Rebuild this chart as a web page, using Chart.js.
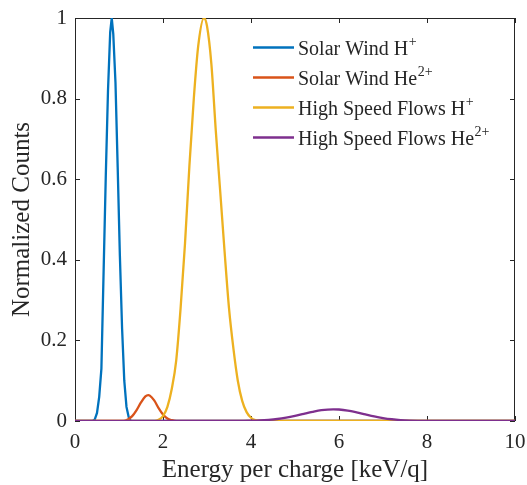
<!DOCTYPE html>
<html><head><meta charset="utf-8">
<script src="https://cdn.jsdelivr.net/npm/chart.js@4/dist/chart.umd.min.js"></script>
<style>html,body{margin:0;padding:0;background:#fff;}</style>
</head><body>
<canvas id="c" width="527" height="485" style="display:block;width:527px;height:485px"></canvas>
<script>
// ---- data ----
const seriesNames = ['Solar Wind H', 'Solar Wind He', 'High Speed Flows H', 'High Speed Flows He'];
const seriesSup = ['+', '2+', '+', '2+'];

const swHx = [0, 0.40, 0.45, 0.50, 0.55, 0.60, 0.65, 0.70, 0.75, 0.80, 0.835, 0.87, 0.92, 0.97, 1.02, 1.07, 1.12, 1.17, 1.22, 1.27, 10];
const swHy = [0, 0, 0.004, 0.02, 0.06, 0.13, 0.37, 0.61, 0.82, 0.965, 1.0, 0.96, 0.84, 0.63, 0.41, 0.23, 0.10, 0.035, 0.01, 0, 0];

const swHeX = [0, 1.1, 1.2, 1.3, 1.4, 1.5, 1.6, 1.665, 1.7, 1.8, 1.9, 2.0, 2.1, 2.2, 2.3, 10];
const swHeY = [0, 0, 0.004, 0.012, 0.027, 0.046, 0.061, 0.064, 0.063, 0.051, 0.032, 0.016, 0.006, 0.002, 0, 0];

const hsHx = [0, 1.8, 1.9, 2.0, 2.1, 2.2, 2.3, 2.4, 2.5, 2.6, 2.7, 2.8, 2.93, 3.0, 3.1, 3.2, 3.3, 3.4, 3.5, 3.6, 3.7, 3.8, 3.9, 4.0, 4.1, 4.2, 10];
const hsHy = [0, 0, 0.003, 0.012, 0.035, 0.08, 0.15, 0.28, 0.44, 0.633, 0.80, 0.93, 1.0, 0.98, 0.885, 0.72, 0.57, 0.42, 0.28, 0.18, 0.10, 0.05, 0.022, 0.008, 0.002, 0, 0];

const hsHeX = [0, 3.6, 3.8, 4.0, 4.2, 4.4, 4.6, 4.8, 5.0, 5.2, 5.4, 5.6, 5.87, 6.0, 6.2, 6.4, 6.6, 6.8, 7.0, 7.2, 7.4, 7.6, 7.8, 8.0, 8.2, 10];
const hsHeY = [0, 0, 0.0003, 0.0007, 0.0014, 0.0028, 0.005, 0.0084, 0.0128, 0.0179, 0.0228, 0.0268, 0.029, 0.0285, 0.0258, 0.0214, 0.0163, 0.0114, 0.0073, 0.0043, 0.0023, 0.0011, 0.0005, 0.0002, 0, 0];

const xTicks = [0, 2, 4, 6, 8, 10];
const yTicks = [0, 0.2, 0.4, 0.6, 0.8, 1];
const xTitle = 'Energy per charge [keV/q]';
const yTitle = 'Normalized Counts';

// ---- styling ----
const colors = ['#0072BD', '#D95319', '#EDB120', '#7E2F8E'];
const smooth = [false, true, true, true];
const FONT = "'Liberation Serif', 'Times New Roman', serif";
const AX = '#262626';

function pts(xs, ys) { return xs.map((x, i) => ({x: x, y: ys[i]})); }
const allX = [swHx, swHeX, hsHx, hsHeX];
const allY = [swHy, swHeY, hsHy, hsHeY];

const datasets = seriesNames.map((n, i) => ({
  label: n + seriesSup[i],
  data: pts(allX[i], allY[i]),
  borderColor: colors[i],
  backgroundColor: colors[i],
  borderWidth: 2.3,
  pointRadius: 0,
  tension: 0,
  cubicInterpolationMode: smooth[i] ? 'monotone' : 'default',
  fill: false,
  order: 3 - i
}));

const framePlugin = {
  id: 'frame',
  beforeDatasetsDraw(chart) {
    const {ctx, chartArea: a, scales: {x, y}} = chart;
    ctx.save();
    ctx.strokeStyle = AX;
    ctx.lineWidth = 1;
    ctx.strokeRect(a.left + 0.5, a.top + 0.5, a.right - a.left - 1, a.bottom - a.top - 1);
    const L = 5;
    ctx.beginPath();
    x.ticks.forEach(t => {
      const px = Math.round(x.getPixelForValue(t.value)) + 0.5;
      ctx.moveTo(px, a.bottom); ctx.lineTo(px, a.bottom - L);
      ctx.moveTo(px, a.top); ctx.lineTo(px, a.top + L);
    });
    y.ticks.forEach(t => {
      const py = Math.round(y.getPixelForValue(t.value)) + 0.5;
      ctx.moveTo(a.left, py); ctx.lineTo(a.left + L, py);
      ctx.moveTo(a.right, py); ctx.lineTo(a.right - L, py);
    });
    ctx.stroke();
    ctx.restore();
  }
};

const legendPlugin = {
  id: 'mlegend',
  afterDatasetsDraw(chart) {
    const {ctx, chartArea: a} = chart;
    ctx.save();
    const x0 = a.right - 262, x1 = a.right - 221, tx = a.right - 217;
    seriesNames.forEach((n, i) => {
      const yy = a.top + 29.5 + i * 30;
      ctx.strokeStyle = colors[i];
      ctx.lineWidth = 2.3;
      ctx.beginPath(); ctx.moveTo(x0, yy); ctx.lineTo(x1, yy); ctx.stroke();
      ctx.fillStyle = AX;
      ctx.textBaseline = 'alphabetic';
      ctx.textAlign = 'left';
      ctx.font = '20px ' + FONT;
      ctx.fillText(n, tx, yy + 7);
      const w = ctx.measureText(n).width;
      ctx.font = '14px ' + FONT;
      ctx.fillText(seriesSup[i], tx + w + 0.5, yy - 2);
    });
    ctx.restore();
  }
};

const fmt = v => String(Math.round(v * 10) / 10);

new Chart(document.getElementById('c'), {
  type: 'line',
  data: {datasets: datasets},
  plugins: [framePlugin, legendPlugin],
  options: {
    responsive: false,
    animation: false,
    devicePixelRatio: 1,
    layout: {padding: {top: 18, right: 12, left: 0, bottom: 0}},
    plugins: {legend: {display: false}, tooltip: {enabled: false}},
    scales: {
      x: {
        type: 'linear', min: 0, max: 10,
        afterBuildTicks: s => { s.ticks = xTicks.map(v => ({value: v})); },
        afterFit: s => { s.height = 64; s.paddingLeft = 0; s.paddingRight = 0; },
        grid: {display: false, drawTicks: false},
        border: {display: false},
        ticks: {color: AX, padding: 9, font: {family: FONT, size: 21}, maxRotation: 0, callback: fmt},
        title: {display: true, text: xTitle, color: AX, font: {family: FONT, size: 25}, padding: {top: 0, bottom: 0}}
      },
      y: {
        type: 'linear', min: 0, max: 1,
        afterBuildTicks: s => { s.ticks = yTicks.map(v => ({value: v})); },
        afterFit: s => { s.width = 75; s.paddingTop = 0; s.paddingBottom = 0; },
        grid: {display: false, drawTicks: false},
        border: {display: false},
        ticks: {color: AX, padding: 8, font: {family: FONT, size: 21}, callback: fmt},
        title: {display: true, text: yTitle, color: AX, font: {family: FONT, size: 25}, padding: {top: 7, bottom: 0}}
      }
    }
  }
});
</script>
</body></html>
